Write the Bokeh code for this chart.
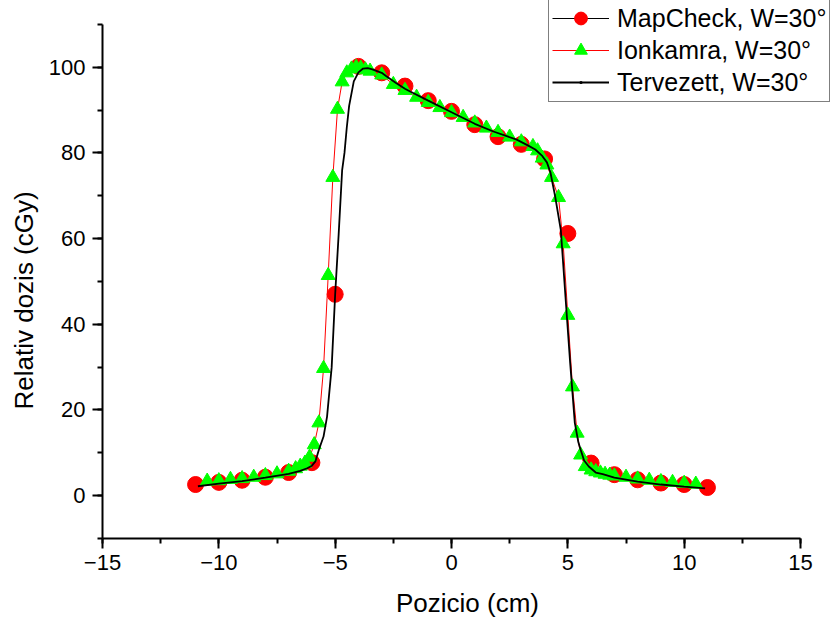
from bokeh.plotting import figure
from bokeh.models import Range1d, SingleIntervalTicker, Legend, LegendItem, Title
from bokeh.embed import file_html
from bokeh.resources import INLINE

# ---------------- data ----------------
mapcheck_x = [-11, -10, -9, -8, -7, -6, -5, -4, -3, -2, -1, 0, 1, 2, 3, 4, 5, 6, 7, 8, 9, 10, 11]
mapcheck_y = [2.6, 3.1, 3.6, 4.3, 5.4, 7.7, 47.0, 100.2, 98.7, 95.6, 92.2, 89.7, 86.6, 83.8, 82.0, 78.6,
              61.2, 7.6, 4.9, 3.7, 2.95, 2.6, 1.9]

ion_x = [-10.5, -10.0, -9.5, -9.0, -8.5, -8.0, -7.5, -7.0, -6.7, -6.5, -6.3, -6.1, -5.9, -5.7, -5.5,
         -5.3, -5.1, -4.9, -4.7, -4.5, -4.3, -4.1, -3.9, -3.7, -3.5, -3.0, -2.5, -2.0, -1.5, -1.0,
         -0.5, 0.0, 0.5, 1.0, 1.5, 2.0, 2.5, 3.0, 3.5, 3.7, 3.9, 4.1, 4.3, 4.6, 4.8, 5.0, 5.2, 5.4,
         5.55, 5.75, 6.0, 6.2, 6.4, 6.6, 6.8, 7.0, 7.5, 8.0, 8.5, 9.0, 9.5, 10.0, 10.5]
ion_y = [3.4, 3.5, 3.8, 4.0, 4.3, 4.7, 5.1, 5.7, 6.3, 6.9, 7.6, 9.0, 11.9, 17.0, 29.7,
         51.4, 74.3, 90.2, 96.6, 98.7, 99.6, 100.0, 99.8, 99.4, 99.1, 98.2, 96.0, 94.6, 93.0, 91.8,
         90.6, 89.4, 88.3, 87.0, 85.8, 84.8, 83.7, 82.6, 81.5, 80.5, 78.8, 77.2, 74.3, 69.6, 58.8, 42.1, 25.4, 14.6,
         9.5, 6.8, 6.0, 5.6, 5.3, 5.0, 4.8, 4.6, 4.3, 3.9, 3.6, 3.3, 3.1, 2.9, 2.7]

plan_x = [-10.9, -10.0, -9.0, -8.0, -7.0, -6.5, -6.2, -6.0, -5.85, -5.7, -5.5, -5.35, -5.15, -5.0,
          -4.85, -4.7, -4.6, -4.5, -4.4, -4.2, -4.0, -3.8, -3.6, -3.4, -3.2, -3.0, -2.8, -2.4, -2.0,
          -1.8, -1.0, 0.0, 1.0, 1.8, 2.8, 3.3, 3.6, 3.9, 4.1, 4.25, 4.45, 4.7, 4.9, 5.1, 5.3, 5.45,
          5.55, 5.7, 5.9, 6.2, 6.5, 7.0, 8.0, 9.0, 10.0, 10.9]
plan_y = [2.2, 2.8, 3.4, 4.2, 5.1, 5.8, 6.4, 7.0, 8.0, 10.7, 13.8, 18.4, 30.0, 47.0,
          61.0, 76.0, 80.0, 86.0, 91.0, 96.7, 98.8, 99.7, 99.8, 99.5, 99.1, 98.7, 97.9, 96.4, 95.0,
          94.4, 92.2, 89.5, 86.8, 85.0, 83.1, 81.7, 80.8, 79.3, 77.8, 75.5, 70.0, 61.9, 46.3, 31.0, 17.0, 12.5,
          10.7, 8.2, 6.8, 5.4, 5.0, 4.2, 3.3, 2.6, 2.1, 1.7]

labels = ["MapCheck, W=30\u00b0", "Ionkamra, W=30\u00b0", "Tervezett, W=30\u00b0"]
x_title = "Pozicio (cm)"
y_title = "Relativ dozis (cGy)"
x_axis_span = (-15, 15)
y_axis_span = (-10, 110)

FONT = "Liberation Sans"

# frame extends to the top/right edges of the canvas so the legend can sit there;
# the axes themselves are bounded to the reference's axis spans
p = figure(width=832, height=620, output_backend="svg", toolbar_location=None,
           x_range=Range1d(-15, 16.375), y_range=Range1d(-10, 115.58),
           min_border_left=102, min_border_right=0, min_border_top=0, min_border_bottom=80)
p.outline_line_color = None
p.xgrid.visible = False
p.ygrid.visible = False
p.background_fill_color = "white"

p.xaxis.ticker = SingleIntervalTicker(interval=5, num_minor_ticks=2)
p.yaxis.ticker = SingleIntervalTicker(interval=20, num_minor_ticks=2)
p.xaxis.bounds = x_axis_span
p.yaxis.bounds = y_axis_span

for ax in (p.xaxis[0], p.yaxis[0]):
    ax.axis_line_width = 2
    ax.axis_line_color = "black"
    ax.major_tick_line_width = 2
    ax.minor_tick_line_width = 2
    ax.major_tick_line_color = "black"
    ax.minor_tick_line_color = "black"
    ax.major_tick_in = 0
    ax.major_tick_out = 10
    ax.minor_tick_in = 0
    ax.minor_tick_out = 5
    ax.major_label_text_font = FONT
    ax.major_label_text_font_size = "22px"
    ax.major_label_text_color = "black"
    ax.axis_label_text_font = FONT
    ax.axis_label_text_font_size = "26px"
    ax.axis_label_text_font_style = "normal"
    ax.axis_label_text_color = "black"

p.xaxis.axis_label = x_title
p.xaxis.major_label_standoff = 6
p.xaxis.axis_label_standoff = 15
p.yaxis.major_label_standoff = 7

# y-axis title placed along the bounded axis (not the whole frame)
ytitle = Title(text=y_title, align="left", offset=129, text_font=FONT, text_font_size="26px",
               text_font_style="normal", text_color="black", standoff=13)
p.add_layout(ytitle, "left")

# MapCheck (markers only in the plot; the legend shows a line too)
mc = p.scatter(mapcheck_x, mapcheck_y, marker="circle", size=16, fill_color="red", line_color="red")
mc_line = p.line(mapcheck_x, mapcheck_y, line_color="black", line_width=1, visible=False)

# Ionkamra
ion_line = p.line(ion_x, ion_y, line_color="red", line_width=1)
ion_pts = p.scatter(ion_x, ion_y, marker="triangle", size=14, fill_color="#00ff00", line_color="#00ff00")

# Tervezett
pl_line = p.line(plan_x, plan_y, line_color="black", line_width=1.8)
pl_pts = p.scatter(plan_x, plan_y, marker="dot", size=18, fill_color="black", line_color="black",
                   visible=False)

legend = Legend(items=[
    LegendItem(label=labels[0], renderers=[mc_line, mc]),
    LegendItem(label=labels[1], renderers=[ion_line, ion_pts]),
    LegendItem(label=labels[2], renderers=[pl_line, pl_pts]),
], location=(446, 436))
legend.label_text_font = FONT
legend.label_text_font_size = "25px"
legend.label_text_color = "black"
legend.glyph_width = 57
legend.glyph_height = 32
legend.label_height = 32
legend.label_standoff = 8
legend.spacing = 0
legend.padding = 3
legend.margin = 0
legend.border_line_color = "black"
legend.border_line_width = 1
legend.background_fill_color = "white"
legend.background_fill_alpha = 1
p.add_layout(legend, "center")

open("out.html", "w").write(file_html(p, INLINE))
